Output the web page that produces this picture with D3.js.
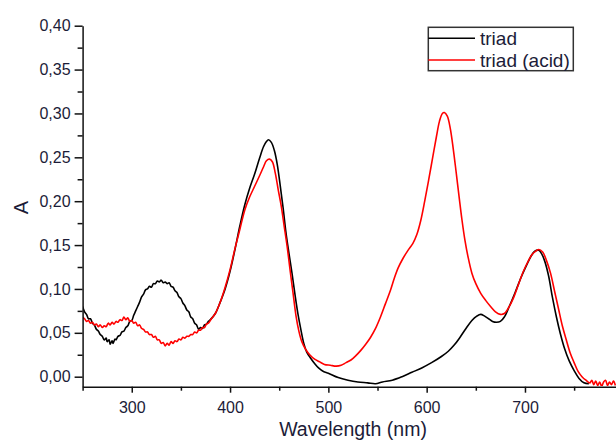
<!DOCTYPE html>
<html><head><meta charset="utf-8">
<script src="https://cdn.jsdelivr.net/npm/d3@7"></script>
<style>body{margin:0;background:#fff} svg{display:block}</style>
</head><body><svg id="c" width="616" height="440"></svg>
<script>
// ---- data ----
const xMajorTicks = [300, 400, 500, 600, 700];
const xMinorTicks = [250, 350, 450, 550, 650, 750];
const yMajorTicks = [0, 0.05, 0.10, 0.15, 0.20, 0.25, 0.30, 0.35, 0.40];
const yTickLabels = ["0,00", "0,05", "0,10", "0,15", "0,20", "0,25", "0,30", "0,35", "0,40"];
const yMinorTicks = [0.025, 0.075, 0.125, 0.175, 0.225, 0.275, 0.325, 0.375];
const seriesNames = ["triad", "triad (acid)"];

const triadNm = [250,252,254,256,258,260,262,264,266,268,270,272,274,275,277,278,280,281,283,284,286,288,290,292,294,296,298,300,302,304,306,308,310,312,314,316,318,320,322,324,326,328,330,332,334,336,338,340,342,344,346,348,350,352,354,356,358,360,362,364,366,368,370,372,374,376,378,380,385,390,395,400,405,410,415,420,425,430,434,437,439,442,445,448,451,454,457,460,463,466,469,472,475,478,482,486,490,495,500,510,520,530,540,548,555,565,575,585,595,605,615,622,628,634,640,646,651,655,659,663,667,671,675,679,684,690,696,702,706,710,714,717,720,724,728,732,736,740,745,750,755,760,765];
const triadA  = [0.080,0.074,0.071,0.066,0.066,0.061,0.059,0.054,0.052,0.048,0.046,0.042,0.044,0.040,0.042,0.037,0.041,0.038,0.043,0.042,0.046,0.047,0.051,0.052,0.056,0.058,0.063,0.064,0.070,0.075,0.080,0.085,0.091,0.094,0.099,0.100,0.103,0.102,0.106,0.106,0.109,0.108,0.110,0.107,0.108,0.106,0.107,0.103,0.102,0.098,0.096,0.091,0.089,0.084,0.081,0.076,0.074,0.068,0.066,0.061,0.059,0.054,0.056,0.055,0.059,0.060,0.063,0.065,0.072,0.085,0.100,0.120,0.145,0.172,0.196,0.215,0.231,0.249,0.262,0.268,0.270,0.267,0.258,0.242,0.218,0.192,0.163,0.140,0.118,0.094,0.072,0.054,0.038,0.028,0.021,0.015,0.010,0.006,0.004,-0.001,-0.004,-0.006,-0.007,-0.008,-0.006,-0.004,0.000,0.005,0.010,0.016,0.023,0.029,0.036,0.045,0.055,0.064,0.069,0.071,0.069,0.066,0.063,0.062,0.063,0.068,0.080,0.096,0.113,0.128,0.137,0.143,0.144,0.140,0.132,0.115,0.090,0.068,0.049,0.033,0.018,0.007,-0.002,-0.007,-0.008];

const acidNm = [250,252,254,256,258,260,262,264,266,268,270,272,274,276,278,280,282,284,286,288,290,292,294,296,298,300,302,304,306,308,310,312,314,316,318,320,322,324,326,328,330,332,334,336,338,340,342,344,346,348,350,352,354,356,358,360,362,364,366,368,370,372,374,376,378,381,385,390,395,400,405,410,415,420,425,430,434,437,440,443,446,449,452,455,458,461,464,467,470,473,477,481,486,491,496,502,508,513,518,523,528,533,538,543,548,553,558,563,567,571,576,581,586,590,594,598,602,606,610,613,616,618,621,624,627,630,633,636,639,642,646,650,655,660,665,670,675,679,683,688,693,698,703,707,711,714,718,722,726,730,734,738,742,746,750,754,758,762,766,768,770,772,774,776,778,780,782,784,786,788,790,792];
const acidA  = [0.068,0.066,0.063,0.064,0.061,0.062,0.059,0.060,0.057,0.059,0.056,0.058,0.057,0.061,0.059,0.062,0.060,0.063,0.062,0.065,0.064,0.068,0.065,0.067,0.063,0.064,0.061,0.062,0.058,0.059,0.055,0.054,0.051,0.051,0.048,0.048,0.045,0.046,0.042,0.042,0.038,0.039,0.035,0.038,0.036,0.040,0.038,0.041,0.040,0.043,0.042,0.045,0.044,0.046,0.046,0.048,0.048,0.051,0.050,0.053,0.053,0.056,0.056,0.060,0.061,0.066,0.072,0.085,0.102,0.122,0.146,0.168,0.190,0.205,0.217,0.229,0.239,0.246,0.248,0.245,0.232,0.213,0.195,0.172,0.149,0.122,0.096,0.070,0.052,0.040,0.031,0.025,0.020,0.017,0.014,0.013,0.012,0.013,0.016,0.019,0.024,0.030,0.037,0.045,0.055,0.068,0.083,0.098,0.112,0.124,0.135,0.144,0.152,0.162,0.178,0.200,0.224,0.249,0.274,0.291,0.300,0.301,0.297,0.283,0.260,0.233,0.205,0.178,0.155,0.137,0.118,0.106,0.095,0.087,0.080,0.074,0.071,0.072,0.078,0.089,0.104,0.119,0.131,0.139,0.143,0.145,0.142,0.132,0.118,0.098,0.078,0.058,0.042,0.027,0.016,0.006,0.000,-0.004,-0.007,-0.004,-0.009,-0.005,-0.010,-0.006,-0.011,-0.006,-0.004,-0.010,-0.006,-0.009,-0.005,-0.010,-0.007];

// ---- layout ----
const svg = d3.select("#c");
const x = d3.scaleLinear().domain([250, 792.6]).range([82.6, 616]);
const y = d3.scaleLinear().domain([-0.0114, 0.40]).range([386.7, 25.7]);
const textColor = "#1c1c38";
const font = "Liberation Sans, Arial, Helvetica, sans-serif";

svg.append("defs").append("clipPath").attr("id", "clip")
  .append("rect").attr("x", 83).attr("y", 20).attr("width", 540).attr("height", 366);

const series = [
  {name: seriesNames[0], nm: triadNm, a: triadA, color: "#000000"},
  {name: seriesNames[1], nm: acidNm, a: acidA, color: "#ff0000"}
];
const line = d3.line().x(d => x(d[0])).y(d => y(d[1])).curve(d3.curveCatmullRom.alpha(0.5));
const g = svg.append("g").attr("clip-path", "url(#clip)");
series.forEach(s => {
  g.append("path").datum(s.nm.map((v, i) => [v, s.a[i]]))
    .attr("d", line).attr("fill", "none").attr("stroke", s.color)
    .attr("stroke-width", 1.6).attr("stroke-linejoin", "round");
});

// axes
const xAxis = svg.append("g").attr("transform", "translate(0,386.7)")
  .call(d3.axisBottom(x).tickValues(xMajorTicks).tickSize(6).tickSizeOuter(0).tickPadding(4).tickFormat(d3.format("d")));
svg.append("g").attr("transform", "translate(0,386.7)")
  .call(d3.axisBottom(x).tickValues(xMinorTicks).tickSize(4).tickSizeOuter(0).tickFormat(""))
  .select(".domain").remove();
const yAxis = svg.append("g").attr("transform", "translate(82.6,0)")
  .call(d3.axisLeft(y).tickValues(yMajorTicks).tickSize(8).tickSizeOuter(0).tickPadding(4)
    .tickFormat((d, i) => yTickLabels[i]));
svg.append("g").attr("transform", "translate(82.6,0)")
  .call(d3.axisLeft(y).tickValues(yMinorTicks).tickSize(5).tickSizeOuter(0).tickFormat(""))
  .select(".domain").remove();

svg.selectAll(".domain, .tick line").attr("stroke", "#111").attr("stroke-width", 1.5);
svg.selectAll(".tick text").attr("fill", textColor).style("font-family", font).style("font-size", "16px");
xAxis.selectAll(".tick text").attr("dy", "1em");

// titles
svg.append("text").attr("x", 353).attr("y", 436).attr("text-anchor", "middle")
  .attr("fill", textColor).style("font-family", font).style("font-size", "19.5px").text("Wavelength (nm)");
svg.append("text").attr("transform", "translate(28,207.5) rotate(-90)").attr("text-anchor", "middle")
  .attr("fill", textColor).style("font-family", font).style("font-size", "20px").text("A");

// legend
const lg = svg.append("g");
lg.append("rect").attr("x", 428.3).attr("y", 27.3).attr("width", 145).attr("height", 43.4)
  .attr("fill", "#fff").attr("stroke", "#333").attr("stroke-width", 1.5);
series.forEach((s, i) => {
  const yy = 38.3 + i * 21.7;
  lg.append("line").attr("x1", 428.3).attr("x2", 475).attr("y1", yy).attr("y2", yy)
    .attr("stroke", s.color).attr("stroke-width", 1.5);
  lg.append("text").attr("x", 480).attr("y", yy + 6.5).attr("fill", textColor)
    .style("font-family", font).style("font-size", "19px").text(s.name);
});
</script></body></html>
